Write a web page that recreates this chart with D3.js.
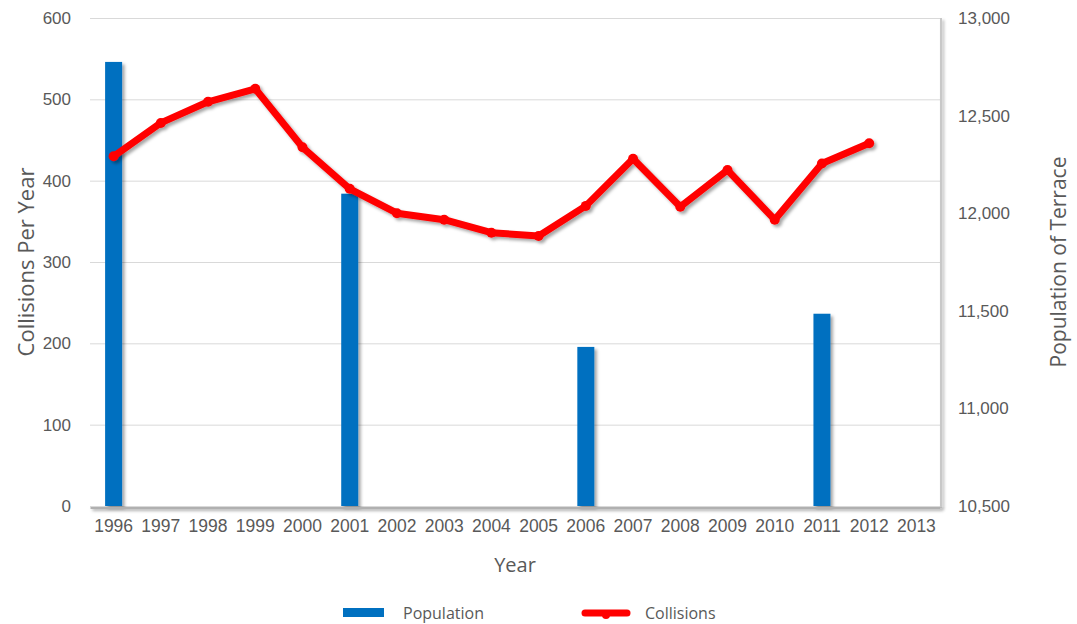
<!DOCTYPE html>
<html>
<head>
<meta charset="utf-8">
<script src="https://cdn.jsdelivr.net/npm/d3@7"></script>
<style>
    body { margin: 0; background: #fff; }
    svg { display: block; font-family: 'Open Sans', sans-serif; }
    .tick text { fill: #595959; }
</style>
</head>
<body>
<div id="chart"></div>
<script>
// values
const years = ['1996', '1997', '1998', '1999', '2000', '2001', '2002', '2003', '2004',
    '2005', '2006', '2007', '2008', '2009', '2010', '2011', '2012', '2013'];
const collisionYears = years.slice(0, 17);
const collisions = [430, 471, 497, 513, 441, 390, 360, 352, 336, 332, 369, 427, 368, 413, 352, 421, 446];
const populationYears = ['1996', '2001', '2006', '2011'];
const population = [12775, 12100, 11315, 11485];
const leftTicks = [0, 100, 200, 300, 400, 500, 600];
const rightTicks = [10500, 11000, 11500, 12000, 12500, 13000];

const width = 1077;
const height = 624;
const area = { left: 90, right: 940, top: 18, bottom: 506 };

const svg = d3.select('#chart')
    .append('svg')
    .attr('width', width)
    .attr('height', height);

// soft drop shadows like the office chart
const defs = svg.append('defs');
defs.append('filter')
    .attr('id', 'shadow')
    .attr('x', '-50%').attr('y', '-20%')
    .attr('width', '200%').attr('height', '140%')
    .append('feDropShadow')
    .attr('dx', 2.5).attr('dy', 2.5)
    .attr('stdDeviation', 1.8)
    .attr('flood-color', '#000')
    .attr('flood-opacity', 0.35);

// straight lines have a flat bbox, so this one works in user space
defs.append('filter')
    .attr('id', 'shadowLine')
    .attr('filterUnits', 'userSpaceOnUse')
    .attr('x', 0).attr('y', 0)
    .attr('width', width).attr('height', height)
    .append('feDropShadow')
    .attr('dx', 2).attr('dy', 2)
    .attr('stdDeviation', 1.5)
    .attr('flood-color', '#000')
    .attr('flood-opacity', 0.3);

const xScale = d3.scaleBand().domain(years).range([area.left, area.right]);
const yLeft = d3.scaleLinear().domain([0, 600]).range([area.bottom, area.top]);
const yRight = d3.scaleLinear().domain([10500, 13000]).range([area.bottom, area.top]);

// gridlines
svg.append('g')
    .attr('transform', `translate(${area.left}, 0)`)
    .call(d3.axisLeft(yLeft).tickValues(leftTicks).tickFormat('').tickSize(-(area.right - area.left)))
    .call((g) => g.select('.domain').remove())
    .selectAll('line')
    .style('stroke', '#d9d9d9')
    .style('stroke-width', 1);

// plot border on right, with shadow
svg.append('line')
    .attr('x1', area.right + 1).attr('x2', area.right + 1)
    .attr('y1', area.top).attr('y2', area.bottom + 2)
    .style('stroke', '#c8c8c8')
    .style('stroke-width', 2)
    .attr('filter', 'url(#shadowLine)');

// bars (population, right axis)
const barW = xScale.bandwidth() * 0.36;
svg.append('g')
    .attr('filter', 'url(#shadow)')
    .selectAll('rect')
    .data(populationYears.map((y, i) => ({ year: y, value: population[i] })))
    .join('rect')
    .attr('x', (d) => xScale(d.year) + (xScale.bandwidth() - barW) / 2)
    .attr('y', (d) => yRight(d.value))
    .attr('width', barW)
    .attr('height', (d) => area.bottom - yRight(d.value))
    .style('fill', '#0070c0');

// x axis
const xAxis = svg.append('g')
    .attr('transform', `translate(0, ${area.bottom + 1})`)
    .call(d3.axisBottom(xScale).tickSize(0).tickPadding(13));
xAxis.select('.domain')
    .style('stroke', '#b0b0b0')
    .style('stroke-width', 3)
    .attr('filter', 'url(#shadowLine)');
xAxis.selectAll('text').style('font-size', '17.5px');

// left axis
svg.append('g')
    .attr('transform', `translate(${area.left - 16}, 0)`)
    .call(d3.axisLeft(yLeft).tickValues(leftTicks).tickSize(0))
    .call((g) => g.select('.domain').remove())
    .selectAll('text')
    .style('font-size', '17px');

// right axis
svg.append('g')
    .attr('transform', `translate(${area.right + 15}, 0)`)
    .call(d3.axisRight(yRight).tickValues(rightTicks).tickSize(0).tickFormat(d3.format(',')))
    .call((g) => g.select('.domain').remove())
    .selectAll('text')
    .style('font-size', '17px');

// collisions line
const points = collisionYears.map((y, i) => ({ year: y, value: collisions[i] }));
const cx = (d) => xScale(d.year) + xScale.bandwidth() / 2;
const lineG = svg.append('g').attr('filter', 'url(#shadow)');
lineG.append('path')
    .datum(points)
    .attr('d', d3.line().x(cx).y((d) => yLeft(d.value)))
    .style('fill', 'none')
    .style('stroke', '#ff0000')
    .style('stroke-width', 7)
    .style('stroke-linejoin', 'round')
    .style('stroke-linecap', 'round');
lineG.selectAll('circle')
    .data(points)
    .join('circle')
    .attr('cx', cx)
    .attr('cy', (d) => yLeft(d.value))
    .attr('r', 5)
    .style('fill', '#ff0000');

// axis titles
svg.append('text')
    .attr('transform', `translate(34, ${(area.top + area.bottom) / 2}) rotate(-90)`)
    .attr('text-anchor', 'middle')
    .style('font-size', '22px')
    .style('fill', '#595959')
    .text('Collisions Per Year');

svg.append('text')
    .attr('transform', `translate(1066, ${(area.top + area.bottom) / 2}) rotate(-90)`)
    .attr('text-anchor', 'middle')
    .style('font-size', '21px')
    .style('fill', '#595959')
    .text('Population of Terrace');

svg.append('text')
    .attr('x', 515)
    .attr('y', 572)
    .attr('text-anchor', 'middle')
    .style('font-size', '20px')
    .style('fill', '#595959')
    .text('Year');

// legend
const legend = svg.append('g');
legend.append('rect')
    .attr('x', 343).attr('y', 608)
    .attr('width', 41).attr('height', 9)
    .style('fill', '#0070c0');
legend.append('text')
    .attr('x', 403).attr('y', 619)
    .style('font-size', '16px')
    .style('fill', '#595959')
    .text('Population');
legend.append('line')
    .attr('x1', 585).attr('x2', 627)
    .attr('y1', 613).attr('y2', 613)
    .style('stroke', '#ff0000')
    .style('stroke-width', 7)
    .style('stroke-linecap', 'round');
legend.append('circle')
    .attr('cx', 606).attr('cy', 615)
    .attr('r', 4)
    .style('fill', '#ff0000');
legend.append('text')
    .attr('x', 645).attr('y', 619)
    .style('font-size', '16px')
    .style('fill', '#595959')
    .text('Collisions');
</script>
</body>
</html>
